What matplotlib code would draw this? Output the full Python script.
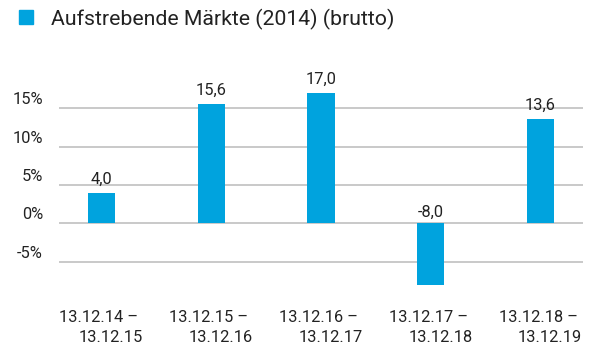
import matplotlib
matplotlib.use("Agg")
import matplotlib.pyplot as plt
from matplotlib.patches import Rectangle
import matplotlib.transforms as mtransforms

plt.rcParams['font.family'] = ['Roboto', 'DejaVu Sans']

series_name = "Aufstrebende Märkte (2014) (brutto)"
periods_start = ["13.12.14 –", "13.12.15 –", "13.12.16 –", "13.12.17 –", "13.12.18 –"]
periods_end = ["13.12.15", "13.12.16", "13.12.17", "13.12.18", "13.12.19"]
returns = [4.0, 15.6, 17.0, -8.0, 13.6]
y_ticks = [-5, 0, 5, 10, 15]

BAR_COLOR = "#00a3de"
GRID_COLOR = "#c0c0c0"
TEXT_COLOR = "#222222"
LABEL_SIZE = 11.8

W, H = 597, 347
fig = plt.figure(figsize=(W / 100, H / 100), dpi=100)

# plot area in pixel units (left, top, right, bottom)
px_l, px_t, px_r, px_b = 59, 60, 583, 300
ax = fig.add_axes([px_l / W, 1 - px_b / H, (px_r - px_l) / W, (px_b - px_t) / H])
ax.set_xlim(-0.387, len(returns) - 1 + 0.387)
ax.set_ylim(-10.0, 21.3)
ax.axis("off")

x = list(range(len(returns)))
for t in y_ticks:
    ax.axhline(t, color=GRID_COLOR, lw=1.2, zorder=1)
ax.bar(x, returns, width=0.246, color=BAR_COLOR, zorder=2)

# y tick labels sit just above their grid lines
lab_off = mtransforms.offset_copy(ax.transData, fig=fig, x=0, y=4, units="dots")
ytrans = mtransforms.blended_transform_factory(fig.transFigure, lab_off)
for t in y_ticks:
    ax.text(43 / W, t, f"{t}%", transform=ytrans, ha="right", va="baseline",
            fontsize=LABEL_SIZE, color=TEXT_COLOR)

# value labels above each bar (above the zero line for negative values)
pos_off = mtransforms.offset_copy(ax.transData, fig=fig, x=0, y=9, units="dots")
neg_off = mtransforms.offset_copy(ax.transData, fig=fig, x=0, y=6, units="dots")
for xi, v in zip(x, returns):
    ax.text(xi, max(v, 0), f"{v:.1f}".replace(".", ","),
            transform=pos_off if v >= 0 else neg_off,
            ha="center", va="baseline", fontsize=LABEL_SIZE, color=TEXT_COLOR)

# two-line period labels under the plot
xfig = lambda dx: mtransforms.blended_transform_factory(
    mtransforms.offset_copy(ax.transData, fig=fig, x=dx, y=0, units="dots"),
    fig.transFigure)
for xi, s, e in zip(x, periods_start, periods_end):
    ax.text(xi, 1 - 321.7 / H, s, transform=xfig(-2.5), ha="center",
            va="baseline", fontsize=LABEL_SIZE, color=TEXT_COLOR)
    ax.text(xi, 1 - 342.3 / H, e, transform=xfig(9.5), ha="center",
            va="baseline", fontsize=LABEL_SIZE, color=TEXT_COLOR)

# legend entry at the top
fig.patches.append(Rectangle((19 / W, 1 - 24 / H), 14 / W, 14 / H,
                             transform=fig.transFigure, color=BAR_COLOR))
fig.text(51 / W, 1 - 25 / H, series_name, ha="left", va="baseline",
         fontsize=15.3, color=TEXT_COLOR)

fig.savefig("out.png", dpi=100)
